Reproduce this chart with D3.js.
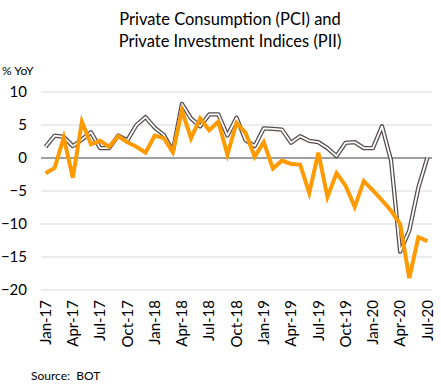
<!DOCTYPE html>
<html>
<head>
<meta charset="utf-8">
<script src="https://cdn.jsdelivr.net/npm/d3@7"></script>
<style>
  body { margin: 0; background: #fff; }
  svg { display: block; font-family: Lato, "Liberation Sans", sans-serif; }
</style>
</head>
<body>
<div id="chart"></div>
<script>
// monthly categories, Jan-17 .. Jul-20
var months = [
  "Jan-17","Feb-17","Mar-17","Apr-17","May-17","Jun-17","Jul-17","Aug-17","Sep-17","Oct-17","Nov-17","Dec-17",
  "Jan-18","Feb-18","Mar-18","Apr-18","May-18","Jun-18","Jul-18","Aug-18","Sep-18","Oct-18","Nov-18","Dec-18",
  "Jan-19","Feb-19","Mar-19","Apr-19","May-19","Jun-19","Jul-19","Aug-19","Sep-19","Oct-19","Nov-19","Dec-19",
  "Jan-20","Feb-20","Mar-20","Apr-20","May-20","Jun-20","Jul-20"
];

// Private Consumption Index, % YoY
var pci = [
  1.7, 3.4, 3.2, 1.8, 2.8, 3.9, 1.5, 1.5, 3.4, 2.7, 5.0, 6.2,
  4.6, 3.5, 1.0, 8.2, 6.0, 4.8, 6.6, 6.6, 3.4, 6.1, 2.7, 1.8,
  4.5, 4.4, 4.3, 2.3, 3.3, 2.6, 2.4, 1.5, 0.3, 2.3, 2.4, 1.5,
  1.5, 4.8, -0.4, -14.2, -11.0, -4.5, 0.1
];

// Private Investment Index, % YoY
var pii = [
  -2.3, -1.5, 3.1, -3.0, 5.5, 2.1, 2.6, 1.7, 3.3, 2.4, 1.7, 0.8,
  3.4, 3.0, 0.9, 7.2, 3.0, 6.0, 4.2, 5.5, 0.5, 5.3, 3.8, 0.2,
  2.4, -1.6, -0.4, -0.9, -1.0, -5.3, 0.8, -5.9, -2.3, -4.2, -7.4, -3.5,
  -4.9, -6.4, -8.0, -10.0, -18.2, -12.0, -12.6
];

var yTicks = [10, 5, 0, -5, -10, -15, -20];
var xLabels = months.filter(function (d, i) { return i % 3 === 0; });

var width = 441, height = 391;
var margin = { top: 92, right: 9, bottom: 101, left: 41 };

var svg = d3.select("#chart").append("svg")
  .attr("width", width)
  .attr("height", height);

var x = d3.scaleBand()
  .domain(months)
  .range([margin.left, width - margin.right])
  .padding(0);

var y = d3.scaleLinear()
  .domain([-20, 10])
  .range([height - margin.bottom, margin.top]);

var cx = function (m) { return x(m) + x.bandwidth() / 2; };

// title
svg.append("text")
  .attr("x", 230).attr("y", 25)
  .attr("text-anchor", "middle")
  .attr("font-size", 16.5)
  .attr("fill", "#000")
  .text("Private Consumption (PCI) and");
svg.append("text")
  .attr("x", 230).attr("y", 47)
  .attr("text-anchor", "middle")
  .attr("font-size", 16.5)
  .attr("fill", "#000")
  .text("Private Investment Indices (PII)");

svg.append("text")
  .attr("x", 2).attr("y", 75)
  .attr("font-size", 12)
  .text("% YoY");

// gridlines
svg.append("g")
  .selectAll("line")
  .data(yTicks.filter(function (d) { return d !== 0; }))
  .enter().append("line")
  .attr("x1", margin.left).attr("x2", width - margin.right)
  .attr("y1", function (d) { return y(d); })
  .attr("y2", function (d) { return y(d); })
  .attr("stroke", "#d9d9d9")
  .attr("stroke-width", 1);

// y axis labels
var yAxis = svg.append("g")
  .attr("transform", "translate(" + (margin.left - 14) + ",0)")
  .call(d3.axisLeft(y).tickValues(yTicks).tickSize(0).tickPadding(0));
yAxis.select(".domain").remove();
yAxis.selectAll("text")
  .attr("font-family", "Lato, 'Liberation Sans', sans-serif")
  .attr("font-size", 15)
  .attr("fill", "#000");

// x axis labels, rotated
var xAxis = svg.append("g")
  .attr("transform", "translate(0," + (y(-20) + 10) + ")")
  .call(d3.axisBottom(x).tickValues(xLabels).tickSize(0).tickPadding(0));
xAxis.select(".domain").remove();
xAxis.selectAll("text")
  .attr("font-family", "Lato, 'Liberation Sans', sans-serif")
  .attr("font-size", 15)
  .attr("fill", "#000")
  .attr("text-anchor", "end")
  .attr("transform", "rotate(-90)")
  .attr("x", 0)
  .attr("y", 0)
  .attr("dy", "0.35em");

// zero line
svg.append("line")
  .attr("x1", margin.left).attr("x2", width - margin.right)
  .attr("y1", y(0)).attr("y2", y(0))
  .attr("stroke", "#404040")
  .attr("stroke-width", 1.2);

var line = d3.line()
  .x(function (d, i) { return cx(months[i]); })
  .y(function (d) { return y(d); });

// PCI: dark outline with a white core
svg.append("path")
  .datum(pci)
  .attr("d", line)
  .attr("fill", "none")
  .attr("stroke", "#564c4c")
  .attr("stroke-width", 4.3)
  .attr("stroke-linejoin", "round");
svg.append("path")
  .datum(pci)
  .attr("d", line)
  .attr("fill", "none")
  .attr("stroke", "#fff")
  .attr("stroke-width", 1.8)
  .attr("stroke-linejoin", "round");

// PII
svg.append("path")
  .datum(pii)
  .attr("d", line)
  .attr("fill", "none")
  .attr("stroke", "#ff9a00")
  .attr("stroke-width", 4)
  .attr("stroke-linejoin", "miter");

svg.append("text")
  .attr("x", 31).attr("y", 380)
  .attr("font-size", 12)
  .attr("xml:space", "preserve")
  .text("Source:  BOT");
</script>
</body>
</html>
